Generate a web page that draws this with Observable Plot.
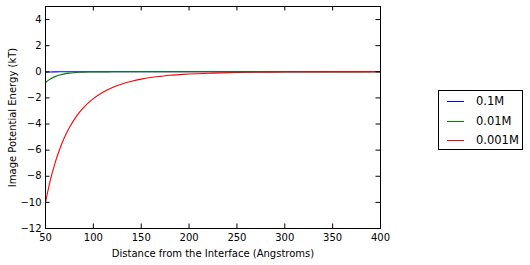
<!DOCTYPE html>
<html>
<head>
<meta charset="utf-8">
<script src="https://cdn.jsdelivr.net/npm/d3@7"></script>
<script src="https://cdn.jsdelivr.net/npm/@observablehq/plot@0.6"></script>
<style>
  html, body { margin: 0; padding: 0; background: #fff; }
  #wrap { position: relative; width: 530px; height: 265px; font-family: "DejaVu Sans", sans-serif; }
  #legend { position: absolute; left: 438px; top: 90px; width: 85px; height: 60px; border: 1px solid #000; box-sizing: border-box; background: #fff; font-size: 11.5px; }
  .row { position: absolute; left: 0; height: 14px; }
  .sw { position: absolute; left: 8px; width: 17px; height: 1px; top: 7px; }
  .lb { position: absolute; left: 37px; top: 0; line-height: 14px; white-space: nowrap; }
</style>
</head>
<body>
<div id="wrap"><div id="chart"></div><div id="legend"></div></div>
<script>
const distance = [50,55,60,65,70,75,80,85,90,95,100,110,120,130,140,150,160,170,180,190,200,225,250,275,300,350,400];
const e01M   = [-0.03,-0.01,-0.004,-0.001,0,0,0,0,0,0,0,0,0,0,0,0,0,0,0,0,0,0,0,0,0,0,0];
const e001M  = [-0.82,-0.55,-0.37,-0.25,-0.16,-0.10,-0.065,-0.04,-0.025,-0.015,-0.01,-0.004,-0.002,0,0,0,0,0,0,0,0,0,0,0,0,0,0];
const e0001M = [-10.0,-8.32,-6.97,-5.89,-5.0,-4.27,-3.66,-3.15,-2.73,-2.36,-2.05,-1.56,-1.20,-0.93,-0.72,-0.56,-0.44,-0.35,-0.27,-0.22,-0.17,-0.10,-0.057,-0.033,-0.02,-0.007,-0.002];
const seriesNames = ["0.1M","0.01M","0.001M"];
const seriesColors = ["#0000ff","#008000","#ff0000"];
const xTicks = [50,100,150,200,250,300,350,400];
const yTicks = [-12,-10,-8,-6,-4,-2,0,2,4];

const allSeries = [e01M, e001M, e0001M];
const rows = seriesNames.flatMap((name, i) => distance.map((d, j) => ({name, x: d, y: allSeries[i][j]})));
const fmt = d => d < 0 ? "\u2212" + (-d) : String(d);

const xs = 335 / 350, ys = 209 / 16; // px per unit, for inward tick lengths
const tl = 4.5;

const chart = Plot.plot({
  width: 530, height: 265,
  marginLeft: 45, marginRight: 150, marginTop: 6, marginBottom: 37,
  style: {fontFamily: "DejaVu Sans, sans-serif", fontSize: "10px", color: "#000", background: "#fff", overflow: "visible"},
  x: {domain: [50, 400], ticks: xTicks, tickFormat: fmt, tickSize: 0, tickPadding: 5, label: null},
  y: {domain: [-12, 5], ticks: yTicks, tickFormat: fmt, tickSize: 0, tickPadding: 4, label: null},
  color: {domain: seriesNames, range: seriesColors},
  marks: [
    Plot.line(rows, {x: "x", y: "y", z: "name", stroke: "name", strokeWidth: 1.1, curve: "monotone-x"}),
    Plot.ruleX(xTicks, {x: d => d, y1: -12, y2: -12 + tl / ys, stroke: "#000"}),
    Plot.ruleX(xTicks, {x: d => d, y1: 5, y2: 5 - tl / ys, stroke: "#000"}),
    Plot.ruleY(yTicks, {y: d => d, x1: 50, x2: 50 + tl / xs, stroke: "#000"}),
    Plot.ruleY(yTicks, {y: d => d, x1: 400, x2: 400 - tl / xs, stroke: "#000"}),
    Plot.frame({stroke: "#000"}),
    Plot.text(["Distance from the Interface (Angstroms)"], {frameAnchor: "bottom", dy: 28, fontSize: 10, fill: "#000"}),
    Plot.text(["Image Potential Energy (kT)"], {frameAnchor: "left", textAnchor: "middle", dx: -33, rotate: -90, fontSize: 10, fill: "#000"})
  ]
});
document.getElementById("chart").appendChild(chart);

const legend = document.getElementById("legend");
seriesNames.forEach((n, i) => {
  const r = document.createElement("div");
  r.className = "row";
  r.style.top = (3 + i * 19.5) + "px";
  r.style.width = "100%";
  r.innerHTML = `<div class="sw" style="background:${seriesColors[i]}"></div><div class="lb">${n}</div>`;
  legend.appendChild(r);
});
</script>
</body>
</html>
